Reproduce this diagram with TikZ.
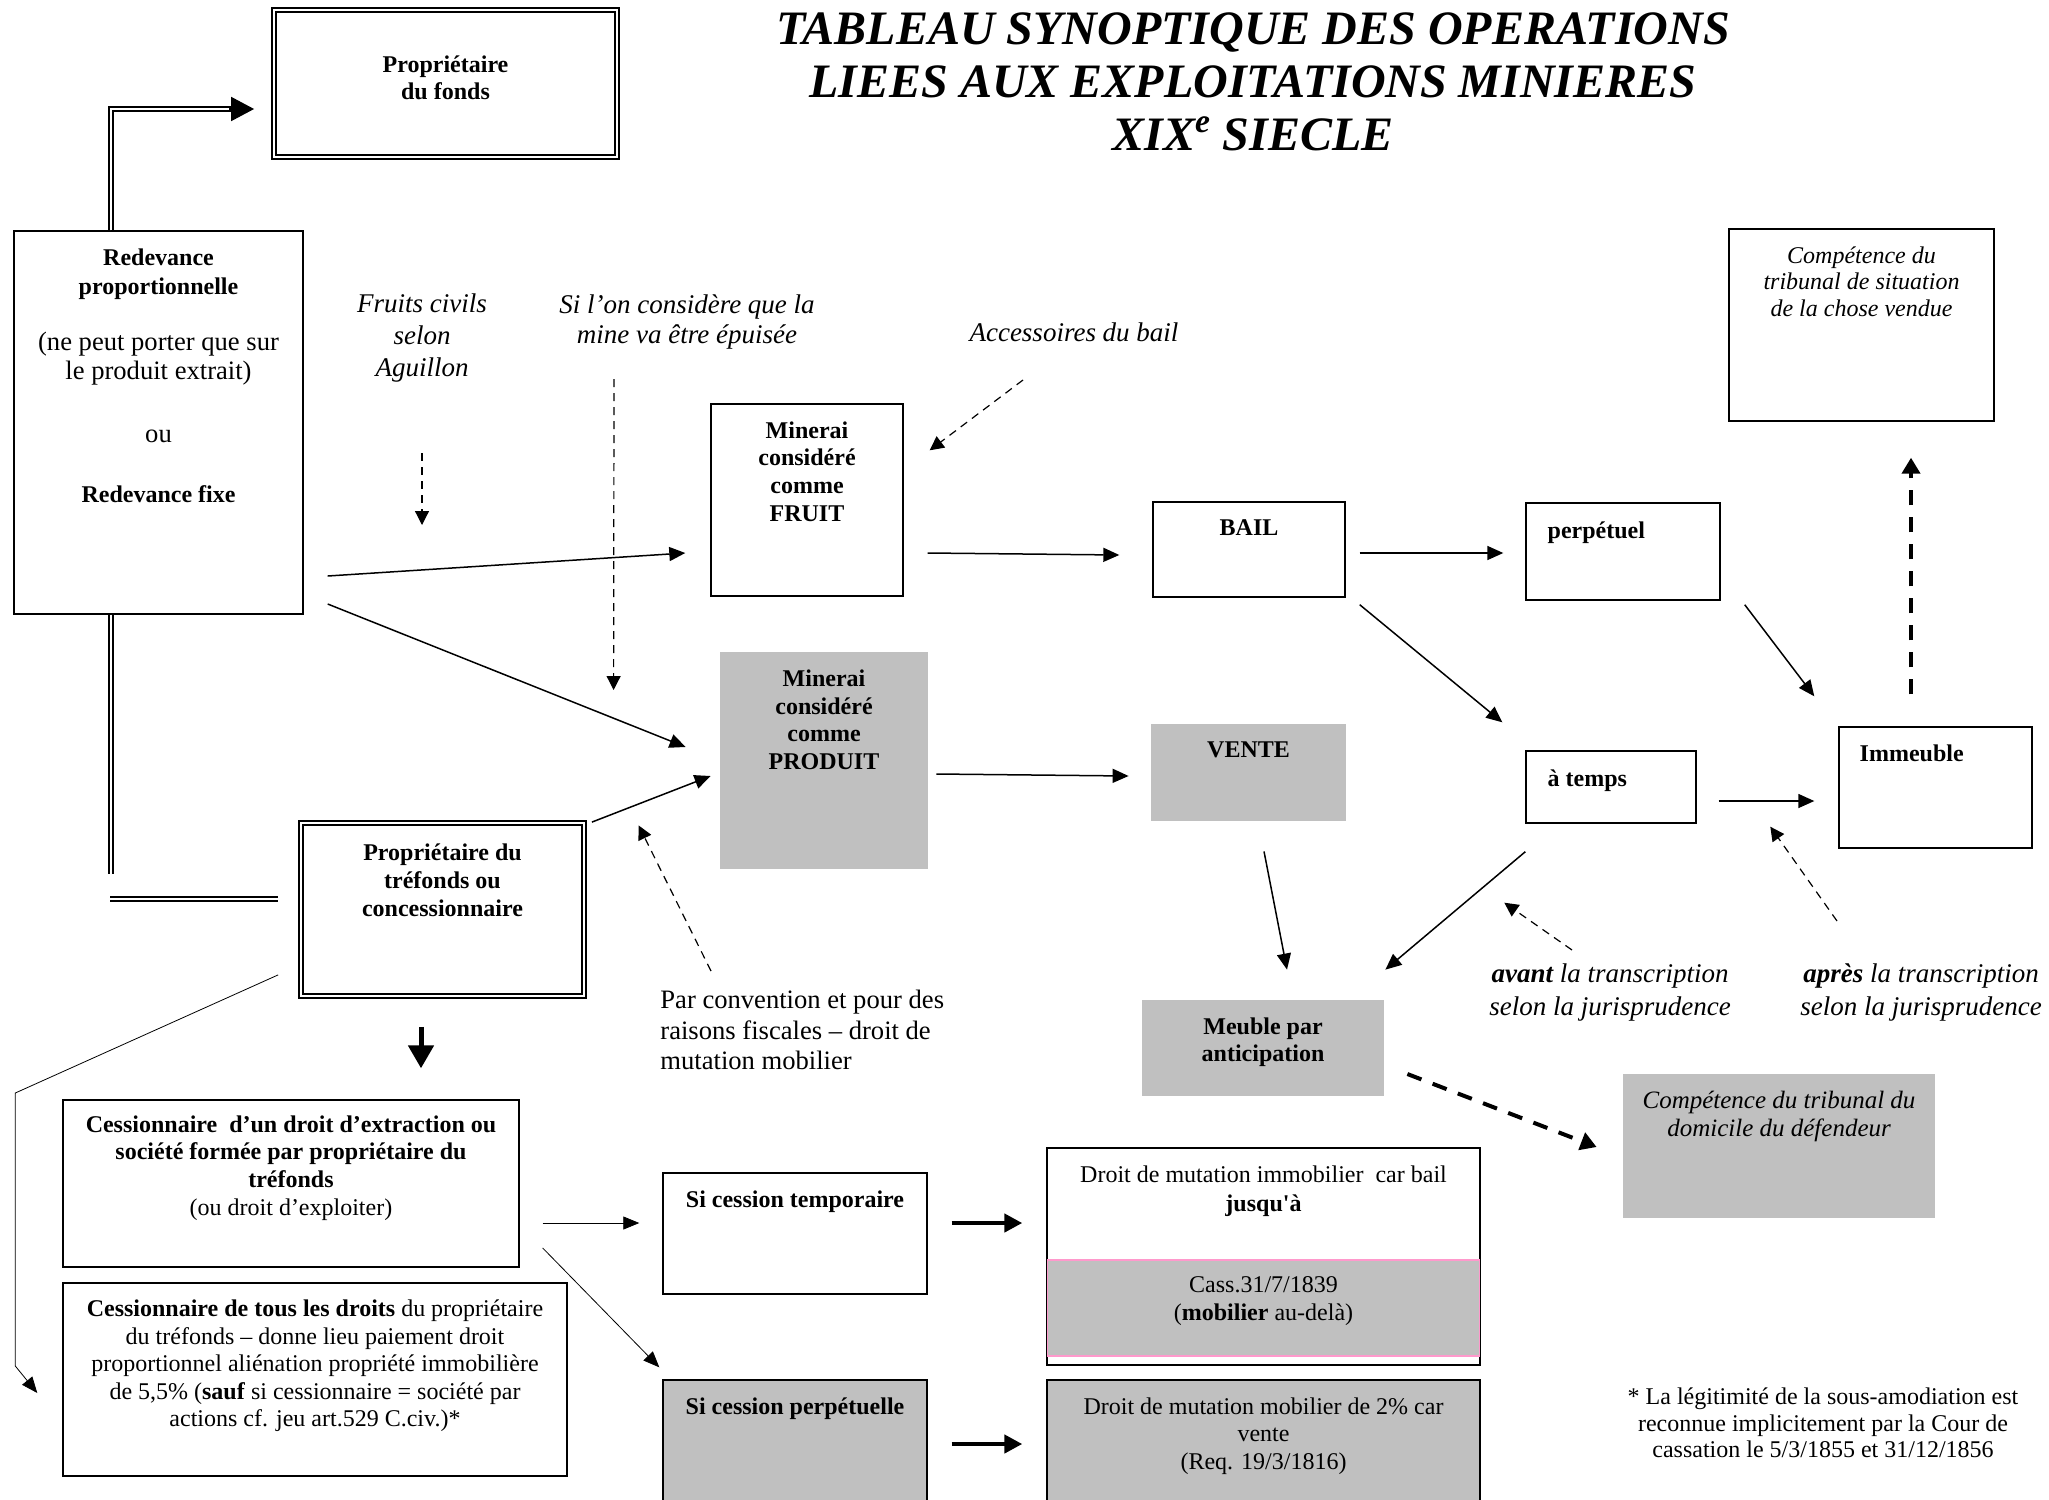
\documentclass[tikz,border=0pt]{standalone}
\usepackage{fontspec}
\setmainfont{Liberation Serif}
\usetikzlibrary{arrows.meta,calc}
\definecolor{mineGray}{RGB}{192,192,192}
\definecolor{minePink}{RGB}{255,153,204}
\newcommand{\boldpart}[1]{{\fontsize{12}{14}\selectfont\bfseries #1}}

\begin{document}
\begin{tikzpicture}[x=0.5pt, y=-0.5pt,
    box/.style={draw, line width=0.7pt, inner sep=0pt},
    dblbox/.style={draw, double, double distance=1.3pt, line width=0.9pt, inner sep=0pt},
    graybox/.style={fill=mineGray, inner sep=0pt},
    grayframe/.style={fill=mineGray, draw, line width=0.7pt, inner sep=0pt},
    intext/.style={anchor=north, yshift=-9pt, inner sep=0pt, align=center, font=\fontsize{12}{13.8}\selectfont\bfseries},
    intextl/.style={intext, anchor=north west, xshift=11pt},
    note/.style={inner sep=0pt, align=center, font=\fontsize{13.5}{16}\selectfont\itshape},
    arr/.style={line width=0.75pt, -{Triangle[length=8pt,width=7pt]}},
    thinarr/.style={line width=0.4pt, -{Triangle[length=8pt,width=6.5pt]}},
    dasharr/.style={line width=0.6pt, dash pattern=on 4pt off 3pt, -{Triangle[length=7pt,width=7pt]}},
    bigdash/.style={line width=2pt, dash pattern=on 7.5pt off 6pt, -{Triangle[length=8pt,width=9pt]}},
    fatarr/.style={line width=2.5pt, -{Triangle[length=11.5pt,width=12.5pt]}},
    fatarrs/.style={line width=2.2pt, -{Triangle[length=9pt,width=9pt]}},
    dbl/.style={double, double distance=1.2pt, line width=0.9pt}]

\useasboundingbox (0,0) rectangle (2049,1499);
\fill[white] (0,0) rectangle (2049,1499);

% Title
\node[font=\fontsize{24}{26.5}\selectfont\bfseries\itshape, align=center] (title) at (1253,82)
    {TABLEAU SYNOPTIQUE DES OPERATIONS\\LIEES AUX EXPLOITATIONS MINIERES\\XIX\textsuperscript{e} SIECLE};

% Owners and royalties
\node[dblbox, minimum width=171.5pt, minimum height=73.5pt,
    label={[intext, yshift=-14pt]north:{Propriétaire\\du fonds}}] (fonds) at (445.5,83.5) {};
\node[box, minimum width=144.5pt, minimum height=191.5pt,
    label={[intext, font=\fontsize{13.3}{14.5}\selectfont]north:{\boldpart{Redevance}\\\boldpart{proportionnelle}\\[13.5pt](ne peut porter que sur\\le produit extrait)\\[17pt]ou\\[15.5pt]\boldpart{Redevance fixe}}}] (redev) at (158.5,422.5) {};
\node[dblbox, minimum width=141.5pt, minimum height=86.5pt,
    label={[intext, yshift=-1.5pt, font=\fontsize{12}{14.2}\selectfont\bfseries]north:{Propriétaire du\\tréfonds ou\\concessionnaire}}] (trefonds) at (442.5,909.5) {};
\node[box, minimum width=228pt, minimum height=83.5pt,
    label={[intext, yshift=1pt]north:{Cessionnaire~ d’un droit d’extraction ou\\société formée par propriétaire du\\tréfonds\\\mdseries (ou droit d’exploiter)}}] (cessA) at (291,1183.5) {};
\node[box, minimum width=252pt, minimum height=96.5pt,
    label={[intext, yshift=0.5pt, font=\fontsize{12}{13.8}\selectfont]north:{\textbf{Cessionnaire de tous les droits} du propriétaire\\du tréfonds – donne lieu paiement droit\\proportionnel aliénation propriété immobilière\\de 5,5\% (\textbf{sauf} si cessionnaire = société par\\actions cf. jeu art.529 C.civ.)*}}] (cessB) at (315,1379.5) {};

% Ore as fruit or product
\node[box, minimum width=96pt, minimum height=96pt,
    label={[intext]north:{Minerai\\considéré\\comme\\FRUIT}}] (fruit) at (807,500) {};
\node[graybox, minimum width=104pt, minimum height=108.5pt,
    label={[intext]north:{Minerai\\considéré\\comme\\PRODUIT}}] (produit) at (824,760.5) {};
\node[box, minimum width=96pt, minimum height=47.5pt,
    label={[intext]north:{BAIL}}] (bail) at (1249,549.5) {};
\node[graybox, minimum width=97.5pt, minimum height=48.5pt,
    label={[intext]north:{VENTE}}] (vente) at (1248.5,772.5) {};
\node[box, minimum width=97pt, minimum height=48.5pt,
    label={[intextl, yshift=-0.5pt]north west:{perpétuel}}] (perp) at (1623,551.5) {};
\node[box, minimum width=85pt, minimum height=36pt,
    label={[intextl, yshift=-0.5pt]north west:{à temps}}] (temps) at (1611,787) {};
\node[box, minimum width=96.5pt, minimum height=60.5pt,
    label={[intextl, xshift=-0.5pt]north west:{Immeuble}}] (immeuble) at (1935.5,787.5) {};
\node[box, minimum width=132.5pt, minimum height=96pt,
    label={[intext, font=\fontsize{12}{13.3}\selectfont\itshape]north:{Compétence du\\tribunal de situation\\de la chose vendue}}] (situation) at (1861.5,325) {};
\node[graybox, minimum width=121pt, minimum height=48pt,
    label={[intext, font=\fontsize{12}{13.5}\selectfont\bfseries]north:{Meuble par\\anticipation}}] (meuble) at (1263,1048) {};
\node[graybox, minimum width=156pt, minimum height=72pt,
    label={[intext, yshift=0.5pt, font=\fontsize{12.5}{14}\selectfont\itshape]north:{Compétence du tribunal du\\domicile du défendeur}}] (domicile) at (1779,1146) {};

% Cessions
\node[box, minimum width=132pt, minimum height=60.5pt,
    label={[intext]north:{Si cession temporaire}}] (temporaire) at (795,1233.5) {};
\node[box, minimum width=216.5pt, minimum height=108.5pt,
    label={[intext, font=\fontsize{12}{14.5}\selectfont]north:{Droit de mutation immobilier~ car bail\\\textbf{jusqu\textquotesingle à}}}] (droitimmo) at (1263.5,1256.5) {};
\node[fill=mineGray, draw=minePink, line width=0.6pt, inner sep=0pt, minimum width=216pt, minimum height=48pt,
    label={[intext, yshift=0.5pt, font=\fontsize{12}{14}\selectfont]north:{Cass.31/7/1839\\(\textbf{mobilier} au-delà)}}] (cass) at (1263.5,1308) {};
\node[grayframe, minimum width=132pt, minimum height=65pt,
    label={[intext]north:{Si cession perpétuelle}}] (perpetuelle) at (795,1445) {};
\node[grayframe, minimum width=216.5pt, minimum height=65pt,
    label={[intext, font=\fontsize{12}{13.8}\selectfont]north:{Droit de mutation mobilier de 2\% car\\vente\\(Req. 19/3/1816)}}] (droitmob) at (1263.5,1445) {};

% Notes
\node[note, font=\fontsize{13.5}{15.8}\selectfont\itshape] (fruits) at (422,338) {Fruits civils\\selon\\Aguillon};
\node[note, font=\fontsize{13.5}{15}\selectfont\itshape] (epuise) at (687,322) {Si l’on considère que la\\mine va être épuisée};
\node[note] (access) at (1074,332) {Accessoires du bail};
\node[inner sep=0pt, align=left, anchor=north west, font=\fontsize{13.3}{15.2}\selectfont] (conv) at (660,990)
    {Par convention et pour des\\raisons fiscales – droit de\\mutation mobilier};
\node[note, font=\fontsize{13.5}{16.5}\selectfont\itshape] (avant) at (1610,992) {\textbf{avant} la transcription\\selon la jurisprudence};
\node[note, font=\fontsize{13.5}{16.5}\selectfont\itshape] (apres) at (1921,992) {\textbf{après} la transcription\\selon la jurisprudence};
\node[inner sep=0pt, align=center, font=\fontsize{12}{13.2}\selectfont] (foot) at (1823,1423)
    {* La légitimité de la sous-amodiation est\\reconnue implicitement par la Cour de\\cassation le 5/3/1855 et 31/12/1856};

% Double links
\draw[dbl] ($(redev.north)+(-47.5,0)$) |- ($(fonds.west)+(-42,25.5)$);
\draw[line width=0.9pt, -{Triangle[length=11.5pt,width=12pt]}] ($(fonds.west)+(-44,25.5)$) -- ($(fonds.west)+(-19,25.5)$);
\draw[dbl] ($(redev.south)+(-47.5,0)$) -- ++(0,259);
\draw[dbl] ($(trefonds.west)+(-190,-10.5)$) -- ($(trefonds.west)+(-22,-10.5)$);

% Towards the ore
\draw[arr] ($(redev.east)+(24,153.5)$) -- ($(fruit.west)+(-25,53)$);
\draw[arr] ($(redev.east)+(24,181.5)$) -- ($(produit.west)+(-34,-13.5)$);
\draw[arr] ($(trefonds.north east)+(7,0)$) -- ($(produit.west)+(-9,15.5)$);
\draw[dasharr] ($(fruits.center)+(0,115)$) -- ($(fruits.center)+(0,187)$);
\draw[dasharr] ($(epuise.center)+(-73,57)$) -- ($(produit.west)+(-106,-70.5)$);
\draw[dasharr] ($(access.center)+(-51,48)$) -- ($(fruit.north east)+(26,47)$);
\draw[dasharr] ($(conv.north west)+(51,-19)$) -- ($(produit.south west)+(-81,-44)$);

% Bail and vente
\draw[arr] ($(fruit.east)+(24,53)$) -- ($(bail.west)+(-33,5.5)$);
\draw[arr] ($(produit.east)+(8,13.5)$) -- ($(vente.west)+(-22,3.5)$);
\draw[arr] ($(bail.east)+(14,3.5)$) -- ($(perp.west)+(-22,1.5)$);
\draw[arr] ($(bail.south east)+(14,7)$) -- ($(temps.north west)+(-23,-28)$);
\draw[arr] ($(perp.south east)+(24,4)$) -- ($(immeuble.north west)+(-24,-30)$);
\draw[arr] ($(temps.east)+(22,14)$) -- ($(immeuble.west)+(-24,13.5)$);
\draw[bigdash] ($(immeuble.north)+(-24.5,-32)$) -- ($(situation.south)+(49.5,36)$);
\draw[arr] ($(vente.south)+(15.5,30)$) -- ($(meuble.north)+(24,-30)$);
\draw[arr] ($(temps.south west)+(0,28)$) -- ($(meuble.north east)+(1,-30)$);
\draw[dasharr] ($(avant.center)+(-38,-42)$) -- ($(temps.south west)+(-21,79)$);
\draw[dasharr] ($(apres.center)+(-84,-71)$) -- ($(immeuble.south west)+(-68,-22)$);
\draw[bigdash] ($(meuble.east)+(23,26)$) -- ($(domicile.west)+(-26,1)$);

% Cessions
\draw[fatarr] ($(trefonds.south)+(-21.5,30)$) -- ($(cessA.north)+(130,-31)$);
\draw[thinarr] ($(cessA.east)+(23,39.5)$) -- ($(temporaire.west)+(-23,-10.5)$);
\draw[thinarr] ($(cessA.east)+(23,64.5)$) -- ($(perpetuelle.north west)+(-3,-12)$);
\draw[fatarrs] ($(temporaire.east)+(24,-10.5)$) -- ($(droitimmo.west)+(-24,-33.5)$);
\draw[fatarrs] ($(perpetuelle.east)+(24,-1)$) -- ($(droitmob.west)+(-24,-1)$);
\draw[thinarr] ($(trefonds.south west)+(-22,-22)$) -- ($(cessB.west)+(-47,-286.5)$)
    -- ($(cessB.west)+(-47,-13.5)$) -- ($(cessB.west)+(-25,13.5)$);
\end{tikzpicture}
\end{document}
